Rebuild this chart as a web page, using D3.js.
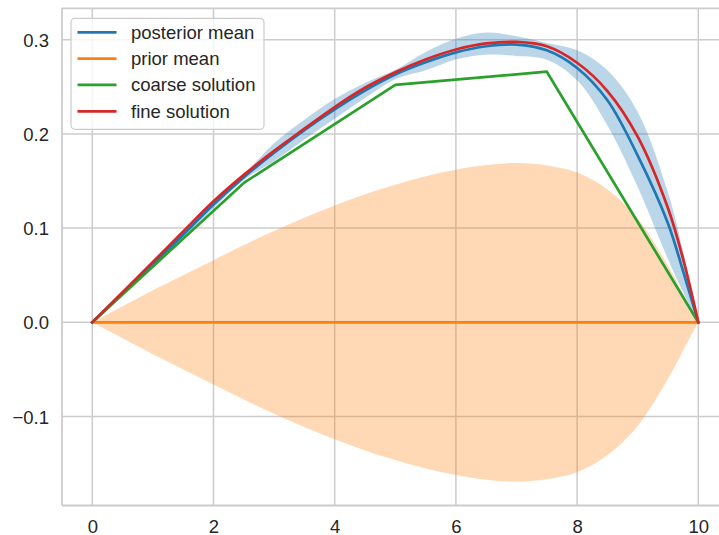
<!DOCTYPE html>
<html>
<head>
<meta charset="utf-8">
<script src="https://cdn.jsdelivr.net/npm/d3@7"></script>
<style>
  html, body { margin: 0; padding: 0; background: #ffffff; }
  svg { display: block; font-family: "Liberation Sans", Arial, sans-serif; }
</style>
</head>
<body>
<svg id="chart" width="719" height="535"></svg>
<script>
// ---- data ----
const xs = [0, 0.5, 1, 1.5, 2, 2.5, 3, 3.5, 4, 4.5, 5, 5.5, 6, 6.5, 7, 7.5, 8, 8.5, 9, 9.5, 9.75, 10];
const posteriorMean = [0, 0.031, 0.062, 0.093, 0.125, 0.154, 0.180, 0.204, 0.226, 0.246, 0.263, 0.276, 0.2865, 0.293, 0.2948, 0.2887, 0.270, 0.2357, 0.177, 0.105, 0.054, 0];
const posteriorLower = [0, 0.030, 0.060, 0.090, 0.121, 0.151, 0.171, 0.194, 0.216, 0.238, 0.258, 0.2675, 0.279, 0.284, 0.2827, 0.2788, 0.2569, 0.209, 0.1436, 0.067, 0.032, 0];
const posteriorUpper = [0, 0.032, 0.064, 0.096, 0.128, 0.157, 0.190, 0.215, 0.237, 0.254, 0.268, 0.287, 0.301, 0.3076, 0.3036, 0.2965, 0.2887, 0.2675, 0.2233, 0.1375, 0.075, 0];
const priorMean = [0, 0, 0, 0, 0, 0, 0, 0, 0, 0, 0, 0, 0, 0, 0, 0, 0, 0, 0, 0, 0, 0];
const priorHalfWidth = [0, 0.017, 0.034, 0.050, 0.066, 0.082, 0.097, 0.111, 0.124, 0.136, 0.146, 0.155, 0.162, 0.167, 0.169, 0.1665, 0.159, 0.141, 0.110, 0.060, 0.030, 0];
const fineSolution = [0, 0.032, 0.064, 0.0965, 0.1285, 0.1565, 0.182, 0.2055, 0.2285, 0.249, 0.2655, 0.279, 0.2895, 0.296, 0.2976, 0.293, 0.2755, 0.2455, 0.197, 0.121, 0.067, 0];
const coarseX = [0, 2.5, 5, 7.5, 10];
const coarseSolution = [0, 0.148, 0.252, 0.266, 0];
const xTicks = [0, 2, 4, 6, 8, 10];
const xTickLabels = ["0", "2", "4", "6", "8", "10"];
const yTicks = [-0.1, 0.0, 0.1, 0.2, 0.3];
const yTickLabels = ["\u22120.1", "0.0", "0.1", "0.2", "0.3"];
const legendLabels = ["posterior mean", "prior mean", "coarse solution", "fine solution"];
const colors = ["#1f77b4", "#ff7f0e", "#2ca02c", "#d62728"];

// ---- layout ----
const svg = d3.select("#chart");
const plot = { left: 62, top: 8.3, right: 728.6, bottom: 505.5 };
const x = d3.scaleLinear().domain([-0.5, 10.5]).range([plot.left, plot.right]);
const y = d3.scaleLinear().domain([-0.1944, 0.3333]).range([plot.bottom, plot.top]);
const gridColor = "#cccccc";
const textColor = "#262626";
const fontSize = 18.5;
const fontFamily = "Liberation Sans, Arial, sans-serif";

// grid
const grid = svg.append("g");
grid.selectAll("line.gx").data(xTicks).enter().append("line")
  .attr("x1", d => x(d)).attr("x2", d => x(d))
  .attr("y1", plot.top).attr("y2", plot.bottom)
  .attr("stroke", gridColor).attr("stroke-width", 1.5);
grid.selectAll("line.gy").data(yTicks).enter().append("line")
  .attr("x1", plot.left).attr("x2", plot.right)
  .attr("y1", d => y(d)).attr("y2", d => y(d))
  .attr("stroke", gridColor).attr("stroke-width", 1.5);

// spines
const sp = svg.append("g").attr("stroke", gridColor).attr("stroke-width", 1.8).attr("fill", "none");
sp.append("line").attr("x1", plot.left).attr("x2", plot.left).attr("y1", plot.top).attr("y2", plot.bottom);
sp.append("line").attr("x1", plot.left).attr("x2", plot.right).attr("y1", plot.bottom).attr("y2", plot.bottom);
sp.append("line").attr("x1", plot.left).attr("x2", plot.right).attr("y1", plot.top).attr("y2", plot.top);

// axes (labels only)
const xAxis = d3.axisBottom(x).tickValues(xTicks).tickSize(0).tickPadding(0)
  .tickFormat((d, i) => xTickLabels[i]);
const gx = svg.append("g").attr("transform", `translate(0,${plot.bottom})`).call(xAxis);
gx.select(".domain").remove();
gx.selectAll("text").attr("font-size", fontSize).attr("fill", textColor)
  .attr("font-family", fontFamily).attr("dy", "0").attr("y", 27);

const yAxis = d3.axisLeft(y).tickValues(yTicks).tickSize(0).tickPadding(0)
  .tickFormat((d, i) => yTickLabels[i]);
const gy = svg.append("g").attr("transform", `translate(${plot.left},0)`).call(yAxis);
gy.select(".domain").remove();
gy.selectAll("text").attr("font-size", fontSize).attr("fill", textColor)
  .attr("font-family", fontFamily).attr("x", -13).attr("dy", "0.35em");

// bands
const curve = d3.curveCatmullRom.alpha(0.5);
const postArea = d3.area().curve(curve)
  .x((d, i) => x(xs[i])).y0((d, i) => y(posteriorLower[i])).y1((d, i) => y(posteriorUpper[i]));
svg.append("path").datum(xs).attr("d", postArea).attr("fill", colors[0]).attr("fill-opacity", 0.3);

const priorArea = d3.area().curve(curve)
  .x((d, i) => x(xs[i])).y0((d, i) => y(priorMean[i] - priorHalfWidth[i])).y1((d, i) => y(priorMean[i] + priorHalfWidth[i]));
svg.append("path").datum(xs).attr("d", priorArea).attr("fill", colors[1]).attr("fill-opacity", 0.3);

// lines
const lw = 2.7;
function drawLine(xv, yv, color, c) {
  const line = d3.line().curve(c).x((d, i) => x(xv[i])).y((d, i) => y(yv[i]));
  svg.append("path").datum(yv).attr("d", line).attr("fill", "none")
    .attr("stroke", color).attr("stroke-width", lw).attr("stroke-linejoin", "round").attr("stroke-linecap", "square");
}
drawLine(xs, posteriorMean, colors[0], curve);
drawLine(xs, priorMean, colors[1], d3.curveLinear);
drawLine(coarseX, coarseSolution, colors[2], d3.curveLinear);
drawLine(xs, fineSolution, colors[3], curve);

// legend
const lg = svg.append("g");
lg.append("rect").attr("x", 71).attr("y", 18.3).attr("width", 193).attr("height", 111)
  .attr("rx", 4).attr("ry", 4).attr("fill", "#ffffff").attr("fill-opacity", 0.8)
  .attr("stroke", gridColor).attr("stroke-width", 1.2);
const rowY = d3.scaleLinear().domain([0, 3]).range([32.3, 111.3]);
legendLabels.forEach((lab, i) => {
  lg.append("line").attr("x1", 77.5).attr("x2", 116.5).attr("y1", rowY(i)).attr("y2", rowY(i))
    .attr("stroke", colors[i]).attr("stroke-width", lw);
  lg.append("text").attr("x", 131).attr("y", rowY(i)).attr("dy", "0.35em")
    .attr("font-size", fontSize).attr("font-family", fontFamily).attr("fill", textColor).text(lab);
});
</script>
</body>
</html>
